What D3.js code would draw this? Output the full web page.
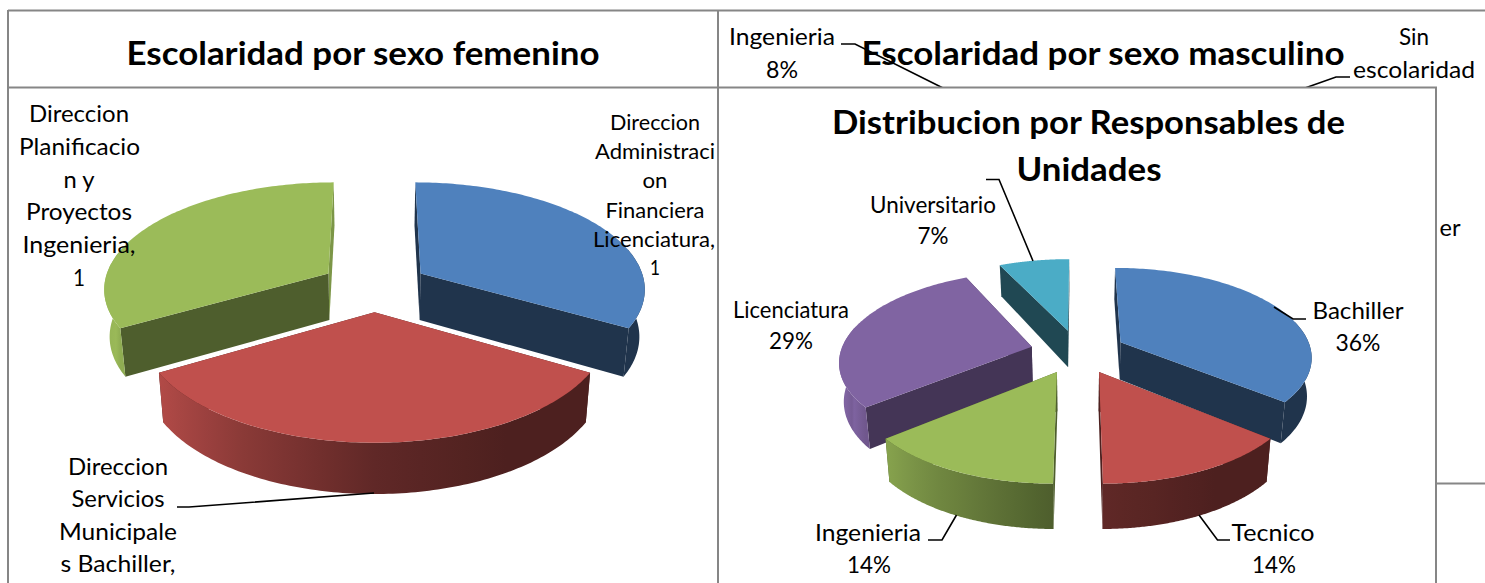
<!DOCTYPE html>
<html><head><meta charset="utf-8">
<script src="https://cdn.jsdelivr.net/npm/d3@7"></script>
<style>html,body{margin:0;padding:0;background:#fff;overflow:hidden}svg{display:block}text{font-family:Lato,"Open Sans",sans-serif;fill:#000}</style>
</head><body><svg id="c" width="1485" height="583"></svg>
<script>
// ---- data ----
const femaleCategories = ["Direccion Administracion Financiera Licenciatura","Direccion Servicios Municipales Bachiller","Direccion Planificacion y Proyectos Ingenieria"];
const femaleValues = [1,1,1];
const femaleColors = ["#4f81bd","#c0504d","#9bbb59"];
const unitCategories = ["Bachiller","Tecnico","Ingenieria","Licenciatura","Universitario"];
const unitValues = [36,14,14,29,7];
const unitColors = ["#4f81bd","#c0504d","#9bbb59","#8064a2","#4bacc6"];

// ---- layout ----
const femaleGeom = {cx:374.5,cy:286,R:225,Ry:106,p:.13,e:.24,d0:47,d1:3.5,inset:.98};
const unitGeom   = {cx:1078,cy:351.4,R:191,Ry:88,p:.15,e:.25,d0:38,d1:6,inset:.98};
const LINE="#868686";
const wallShade={"#4f81bd":.4,"#c0504d":.4,"#9bbb59":.5,"#8064a2":.53,"#4bacc6":.42};
const svg=d3.select("#c");
const defs=svg.append("defs");
const shade=d3.scaleLinear().domain([-1,-.5,0,.5,1]).range([1,.72,.5,.4,.4]).clamp(true);
const darken=(c,k)=>{const r=d3.rgb(c);return d3.rgb(r.r*k,r.g*k,r.b*k).formatHex();};
let gid=0;

function drawPie(values,colors,g,layer,endWallLight){
  const arcs=d3.pie().sort(null).startAngle(0).endAngle(2*Math.PI)(values);
  const poly=d3.line();
  const proj=(u,v,bottom)=>{
    const w=1/(1-g.p*v);
    const X=g.R*u*w, Y=g.Ry*v*w;
    if(!bottom) return [g.cx+X,g.cy+Y];
    return [g.cx+X*g.inset,g.cy+Y+g.d0+g.d1*v];
  };
  const order=arcs.map((a,i)=>{const m=(a.startAngle+a.endAngle)/2;return {a,i,m,o:[g.e*Math.sin(m),-g.e*Math.cos(m)]};})
    .sort((p,q)=>(-Math.cos(p.m))-(-Math.cos(q.m)));
  order.forEach(s=>{
    const c=colors[s.i],[ou,ov]=s.o,ws=wallShade[c];
    const rim=(t,b)=>proj(ou+Math.sin(t),ov-Math.cos(t),b);
    const apexT=proj(ou,ov,false),apexB=proj(ou,ov,true);
    const ts=d3.range(0,121).map(k=>s.a.startAngle+(s.a.endAngle-s.a.startAngle)*k/120);
    const closes=s.a.endAngle>2*Math.PI-1e-6;
    // radial walls
    layer.append("path").attr("d",poly([apexT,rim(s.a.endAngle,false),rim(s.a.endAngle,true),apexB])+"Z")
      .attr("fill",darken(c,endWallLight&&closes?.8:ws));
    layer.append("path").attr("d",poly([apexT,rim(s.a.startAngle,false),rim(s.a.startAngle,true),apexB])+"Z")
      .attr("fill",darken(c,ws));
    // curved outer wall, shaded along its length
    const near=ts.filter(t=>Math.cos(t)<.25);
    if(near.length>1){
      const pts=near.map(t=>rim(t,false)).concat(near.map(t=>rim(t,true)).reverse());
      const xs=near.map(t=>rim(t,false)[0]);
      const x0=d3.min(xs),x1=d3.max(xs),id="w"+(gid++);
      const lg=defs.append("linearGradient").attr("id",id).attr("gradientUnits","userSpaceOnUse")
        .attr("x1",x0).attr("x2",x1).attr("y1",0).attr("y2",0);
      near.filter((_,k)=>k%10===0).sort((a,b)=>rim(a,false)[0]-rim(b,false)[0]).forEach(t=>{
        lg.append("stop").attr("offset",(rim(t,false)[0]-x0)/Math.max(1,x1-x0)).attr("stop-color",darken(c,shade(Math.sin(t))));
      });
      layer.append("path").attr("d",poly(pts)+"Z").attr("fill",`url(#${id})`);
    }
    // top face
    layer.append("path").attr("d",poly([apexT].concat(ts.map(t=>rim(t,false))))+"Z").attr("fill",c);
  });
}

function label(p,txt,cx,cy,width,size,bold){
  p.append("text").attr("x",cx).attr("y",cy).attr("dy",".35em").attr("text-anchor","middle")
   .attr("font-size",size).attr("font-weight",bold?700:400)
   .attr("textLength",width).attr("lengthAdjust","spacingAndGlyphs").text(txt);
}
function leader(p,pts){p.append("path").attr("d",d3.line()(pts)).attr("fill","none").attr("stroke","#000").attr("stroke-width",1.6);}
function gline(p,x1,y1,x2,y2){p.append("line").attr("x1",x1).attr("y1",y1).attr("x2",x2).attr("y2",y2).attr("stroke",LINE).attr("stroke-width",2);}

const root=svg.append("g");
// frames of the sheet
gline(root,8,10.5,1485,10.5);
gline(root,8,10,8,583);
gline(root,8,87.5,718,87.5);
gline(root,1436,483.5,1485,483.5);

// second chart (mostly hidden under the third)
label(root,"Escolaridad por sexo masculino",1103,54,483,32,true);
label(root,"Ingenieria",782,37,106,24);
label(root,"8%",782,70,32,24);
label(root,"Sin",1414,37,30,24);
label(root,"escolaridad",1414,70,122,24);
label(root,"er",1450,228,21,24);
leader(root,[[841,44],[855,44],[943,88]]);
leader(root,[[1350,77],[1336,77],[1305,88]]);

// third chart panel
root.append("rect").attr("x",718).attr("y",87.5).attr("width",718).attr("height",497).attr("fill","#fff").attr("stroke",LINE).attr("stroke-width",2);
gline(root,718,10,718,583);

// first chart
label(root,"Escolaridad por sexo femenino",363,54,473,32,true);
const femaleLayer=root.append("g");
drawPie(femaleValues,femaleColors,femaleGeom,femaleLayer,true);
[["Direccion",79,114,100],["Planificacio",79.5,147,121],["n y",79,180,31],["Proyectos",79,212,106],["Ingenieria,",79,245,113],["1",79,278,12]]
  .forEach(d=>label(root,d[0],d[1],d[2],d[3],24));
[["Direccion",655,122,90],["Administraci",655,151,120],["on",655,180,25],["Financiera",655,210,99],["Licenciatura,",654,239,122],["1",655,267,10]]
  .forEach(d=>label(root,d[0],d[1],d[2],d[3],22));
[["Direccion",118,467,100],["Servicios",118,499,93],["Municipale",118,532,118],["s Bachiller,",118,564,115]]
  .forEach(d=>label(root,d[0],d[1],d[2],d[3],24));
leader(root,[[177,507],[189,507],[374,493]]);

// third chart
const unitLayer=root.append("g");
drawPie(unitValues,unitColors,unitGeom,unitLayer,false);
label(root,"Distribucion por Responsables de",1088.5,123,513,32,true);
label(root,"Unidades",1089,170,145,32,true);
[["Universitario",933,205,126],["7%",933,236,31],["Licenciatura",791,310,116],["29%",791,341,44],
 ["Bachiller",1358,311,91],["36%",1358,343,45],["Ingenieria",868,533,106],["14%",869,565,44],
 ["Tecnico",1273,533,83],["14%",1274,565,44]].forEach(d=>label(root,d[0],d[1],d[2],d[3],23));
leader(root,[[986,179.5],[999,179.5],[1033,261]]);
leader(root,[[1274,307],[1293,319],[1306,319]]);
leader(root,[[928,540],[942,540],[956.5,515]]);
leader(root,[[1199,515],[1217.5,540],[1230,540]]);
</script></body></html>
